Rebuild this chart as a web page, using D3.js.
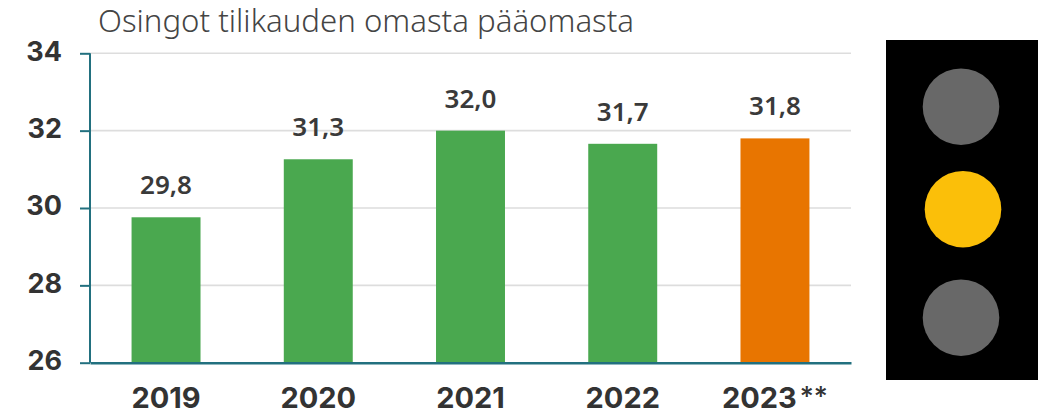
<!DOCTYPE html>
<html>
<head>
<meta charset="utf-8">
<script src="https://cdn.jsdelivr.net/npm/d3@7"></script>
<style>
    html, body { margin: 0; padding: 0; background: #fff; }
    svg { display: block; }
</style>
</head>
<body>
<div id="chart"></div>
<script>
const titleText = "Osingot tilikauden omasta pääomasta";
const years = ["2019", "2020", "2021", "2022", "2023"];
const yearNotes = ["", "", "", "", "**"];
const values = [29.76, 31.26, 32.0, 31.66, 31.8];
const barColors = ["#4aa84f", "#4aa84f", "#4aa84f", "#4aa84f", "#e87500"];
const yTicks = [26, 28, 30, 32, 34];
const lightColors = ["#686868", "#fbbf09", "#686868"];

const width = 1046, height = 415;
const margin = {top: 53.3, right: 195, bottom: 52.3, left: 90};

const svg = d3.select("#chart").append("svg")
    .attr("width", width)
    .attr("height", height);

const x = d3.scaleBand()
    .domain(years)
    .range([margin.left, width - margin.right])
    .paddingInner(0.547)
    .paddingOuter(0.273);

const y = d3.scaleLinear()
    .domain([26, 34])
    .range([height - margin.bottom, margin.top]);

// gridlines
svg.append("g").selectAll("line")
    .data(yTicks.filter(d => d > 26))
    .join("line")
    .attr("x1", margin.left)
    .attr("x2", width - margin.right)
    .attr("y1", d => y(d))
    .attr("y2", d => y(d))
    .attr("stroke", "#dddddd")
    .attr("stroke-width", 1.6);

// bars
svg.append("g").selectAll("rect")
    .data(years)
    .join("rect")
    .attr("x", d => x(d))
    .attr("y", (d, i) => y(values[i]))
    .attr("width", x.bandwidth())
    .attr("height", (d, i) => y(26) - y(values[i]))
    .attr("fill", (d, i) => barColors[i]);

// value labels
svg.append("g").selectAll("text")
    .data(years)
    .join("text")
    .attr("x", d => x(d) + x.bandwidth() / 2)
    .attr("y", (d, i) => y(values[i]) - 23)
    .attr("text-anchor", "middle")
    .attr("font-family", "'Noto Sans', sans-serif")
    .attr("font-weight", 600)
    .attr("font-size", 26)
    .attr("fill", "#3a3a3a")
    .text((d, i) => values[i].toFixed(1).replace(".", ","));

// y axis
const yAxis = svg.append("g")
    .attr("transform", `translate(${margin.left},0)`)
    .call(d3.axisLeft(y).tickValues(yTicks).tickSize(10).tickPadding(18));
yAxis.selectAll("path, line").attr("stroke", "#22707f").attr("stroke-width", 2);
yAxis.select(".domain").attr("d", `M0,${y(34)}V${y(26)}`);
yAxis.selectAll("text")
    .attr("font-family", "Inter, sans-serif")
    .attr("font-weight", 700)
    .attr("font-size", 27)
    .attr("dy", "0.25em")
    .attr("fill", "#333333");

// x axis
const xAxis = svg.append("g")
    .attr("transform", `translate(0,${y(26)})`)
    .call(d3.axisBottom(x).tickSize(0).tickPadding(25));
xAxis.select(".domain").attr("stroke", "#22707f").attr("stroke-width", 2.4);
xAxis.selectAll("text")
    .attr("font-family", "Inter, sans-serif")
    .attr("font-weight", 700)
    .attr("font-size", 29)
    .attr("fill", "#333333")
    .each(function(d, i) {
        if (yearNotes[i]) {
            d3.select(this).append("tspan")
                .attr("font-size", 27)
                .attr("font-weight", 500)
                .attr("dx", 3)
                .attr("dy", -2)
                .text(yearNotes[i]);
        }
    });

// title
svg.append("text")
    .attr("x", 98)
    .attr("y", 32)
    .attr("font-family", "'Noto Sans', sans-serif")
    .attr("font-weight", 300)
    .attr("font-size", 31.2)
    .attr("fill", "#444444")
    .text(titleText);

// traffic light
const light = svg.append("g");
light.append("rect")
    .attr("x", 886)
    .attr("y", 40)
    .attr("width", 152)
    .attr("height", 340)
    .attr("fill", "#000");

const lightY = d3.scalePoint().domain(d3.range(3)).range([106.7, 317.7]);
light.selectAll("circle")
    .data(lightColors)
    .join("circle")
    .attr("cx", (d, i) => i === 1 ? 963 : 961)
    .attr("cy", (d, i) => lightY(i) + (i === 1 ? -3 : 0))
    .attr("r", 38.3)
    .attr("fill", d => d);
</script>
</body>
</html>
